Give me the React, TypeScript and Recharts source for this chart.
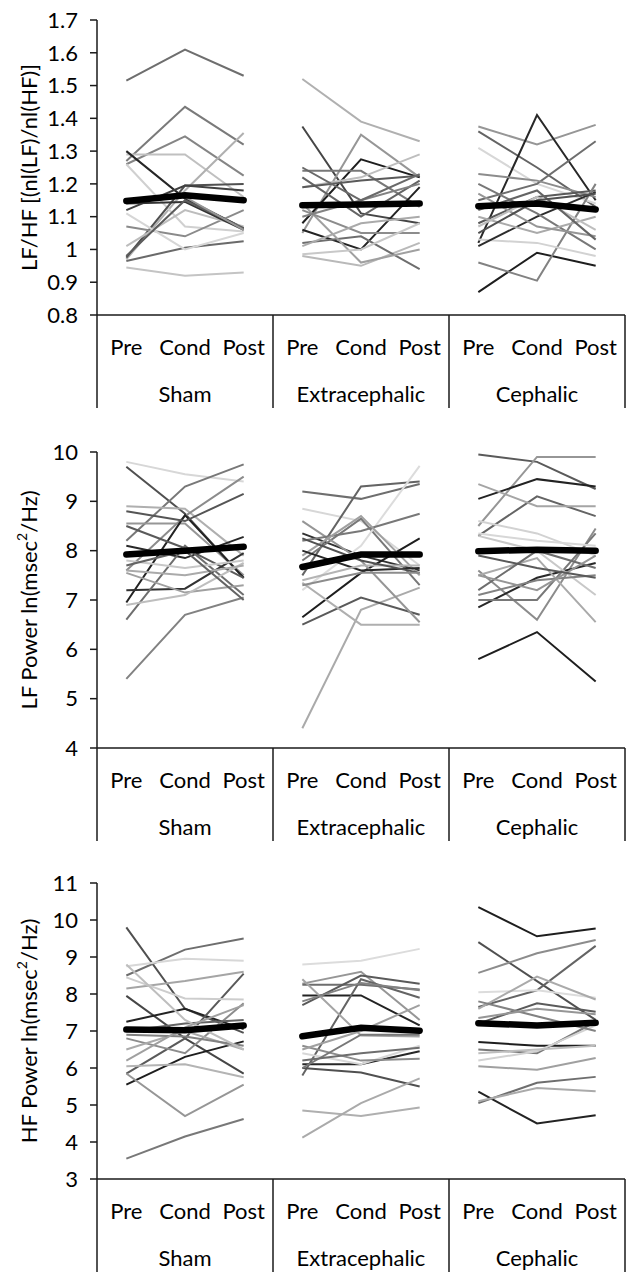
import React from 'react';
import { LineChart, Line, XAxis, YAxis } from 'recharts';

const GROUPS = ['Sham', 'Extracephalic', 'Cephalic'];
const PHASES = ['Pre', 'Cond', 'Post'];

// ---------- Panel 1: LF/HF ----------
const LFHF_TICKS = [0.8, 0.9, 1.0, 1.1, 1.2, 1.3, 1.4, 1.5, 1.6, 1.7];
const LFHF_SHAM = [
  [1.515, 1.61, 1.53], [1.27, 1.435, 1.32], [1.26, 1.345, 1.225], [1.29, 1.29, 1.16],
  [1.3, 1.155, 1.065], [0.97, 1.18, 1.355], [1.26, 1.07, 1.055], [0.975, 1.195, 1.2],
  [1.12, 1.195, 1.18], [1.07, 1.04, 1.12], [1.01, 1.12, 1.07], [0.965, 1.005, 1.025],
  [0.945, 0.92, 0.93], [1.11, 1.0, 1.05], [1.14, 1.145, 1.06], [0.98, 1.15, 1.065],
  [1.15, 1.16, 1.06],
];
const LFHF_EXTRA = [
  [1.52, 1.39, 1.33], [1.375, 1.11, 1.08], [1.05, 1.35, 1.22], [1.08, 1.275, 1.22],
  [1.24, 1.24, 1.13], [1.19, 1.22, 1.29], [1.22, 1.1, 1.21], [1.06, 1.0, 1.19],
  [0.98, 0.95, 1.02], [1.02, 1.04, 0.94], [1.14, 0.96, 1.0], [1.12, 1.05, 1.05],
  [1.19, 1.21, 1.225], [1.1, 1.15, 1.2], [0.985, 1.0, 1.08], [1.01, 1.08, 1.1],
  [1.25, 1.15, 1.23],
];
const LFHF_CEPH = [
  [1.375, 1.32, 1.38], [1.36, 1.25, 1.13], [1.31, 1.2, 1.14], [1.02, 1.41, 1.15],
  [1.15, 1.2, 1.33], [1.23, 1.21, 1.16], [1.08, 1.16, 1.18], [0.87, 0.99, 0.95],
  [0.96, 0.905, 1.2], [1.03, 1.02, 0.98], [1.01, 1.1, 1.175], [1.2, 1.11, 1.0],
  [1.1, 1.05, 1.1], [1.17, 1.07, 1.04], [1.07, 1.16, 1.06], [1.12, 1.18, 1.03],
  [1.05, 1.15, 1.17],
];
const LFHF_MEAN = [[1.148, 1.165, 1.15], [1.135, 1.137, 1.14], [1.132, 1.14, 1.122]];

// ---------- Panel 2: LF Power ----------
const LF_TICKS = [4, 5, 6, 7, 8, 9, 10];
const LF_SHAM = [
  [9.8, 9.55, 9.4], [9.7, 8.75, 7.45], [8.2, 9.3, 9.75], [8.9, 8.85, 7.9],
  [8.55, 8.55, 7.5], [7.6, 8.7, 9.5], [6.95, 8.72, 7.45], [8.5, 8.05, 7.45],
  [8.1, 7.85, 8.28], [7.2, 7.23, 7.95], [6.6, 8.1, 7.1], [5.4, 6.7, 7.05],
  [7.55, 7.15, 7.3], [6.9, 7.1, 7.75], [7.8, 7.65, 7.8], [7.6, 7.5, 7.7],
  [7.7, 8.0, 7.0], [8.8, 8.6, 9.15],
];
const LF_EXTRA = [
  [9.2, 9.05, 9.35], [8.85, 8.6, 7.7], [8.35, 7.9, 7.6], [7.5, 9.3, 9.4],
  [4.4, 6.8, 7.25], [6.65, 7.55, 8.25], [6.5, 7.05, 6.7], [7.8, 8.65, 7.3],
  [8.6, 7.8, 6.55], [7.2, 8.1, 9.72], [8.2, 8.4, 8.75], [7.9, 8.7, 7.5],
  [8.0, 7.6, 7.65], [7.4, 7.7, 7.7], [7.35, 6.5, 6.5], [8.25, 7.8, 7.55],
  [7.3, 7.55, 7.55],
];
const LF_CEPH = [
  [9.95, 9.8, 9.25], [8.5, 9.9, 9.9], [9.05, 9.45, 9.3], [8.3, 9.1, 8.7],
  [9.35, 8.9, 8.9], [5.8, 6.35, 5.35], [8.6, 8.35, 7.9], [7.6, 6.6, 8.45],
  [6.85, 7.45, 7.75], [7.0, 7.0, 8.35], [8.3, 8.0, 7.1], [7.5, 7.85, 6.55],
  [7.1, 7.4, 7.5], [8.35, 8.2, 8.1], [7.2, 8.0, 7.65], [7.5, 7.2, 7.9],
  [7.9, 7.65, 7.45],
];
const LF_MEAN = [[7.92, 8.0, 8.08], [7.67, 7.92, 7.92], [7.99, 8.02, 8.0]];

// ---------- Panel 3: HF Power ----------
const HF_TICKS = [3, 4, 5, 6, 7, 8, 9, 10, 11];
const HF_SHAM = [
  [9.8, 7.6, 6.95], [8.5, 9.2, 9.5], [8.75, 8.95, 8.9], [8.15, 8.35, 8.6],
  [7.95, 6.8, 5.85], [7.25, 7.6, 7.05], [5.85, 6.8, 8.55], [5.55, 6.3, 6.72],
  [3.55, 4.15, 4.62], [5.85, 4.7, 5.55], [6.05, 6.1, 5.75], [8.45, 7.88, 7.85],
  [6.8, 6.4, 7.75], [6.5, 7.0, 6.5], [7.0, 7.2, 7.3], [6.9, 6.85, 6.6],
  [8.8, 7.3, 6.5], [6.2, 7.1, 7.7],
];
const HF_EXTRA = [
  [8.8, 8.9, 9.22], [8.28, 8.6, 7.3], [7.96, 7.96, 7.15], [8.25, 8.25, 8.12],
  [7.7, 8.5, 8.28], [5.8, 8.4, 7.9], [8.4, 6.88, 6.85], [6.0, 5.88, 5.5],
  [4.85, 4.7, 4.93], [4.12, 5.05, 5.72], [6.1, 6.1, 6.45], [6.4, 6.1, 6.6],
  [6.6, 6.2, 6.25], [6.0, 6.9, 6.9], [7.8, 8.3, 8.1], [6.5, 7.0, 7.7],
  [6.2, 6.4, 6.55],
];
const HF_CEPH = [
  [10.35, 9.56, 9.77], [9.4, 8.35, 7.3], [8.57, 9.1, 9.46], [7.65, 8.1, 9.3],
  [8.05, 8.1, 7.9], [7.6, 8.47, 7.85], [7.2, 7.75, 7.52], [6.7, 6.6, 6.6],
  [6.5, 6.4, 7.25], [6.2, 6.45, 7.15], [6.05, 5.95, 6.27], [5.36, 4.5, 4.72],
  [5.05, 5.6, 5.76], [5.1, 5.46, 5.37], [7.8, 7.4, 7.0], [7.35, 7.6, 7.45],
  [6.4, 6.5, 6.6],
];
const HF_MEAN = [[7.04, 7.02, 7.15], [6.86, 7.09, 7.01], [7.21, 7.15, 7.22]];

// ---------- styles (gray levels per subject line) ----------
const SHADES_P1 = [
  [110, 122, 133, 192, 38, 176, 208, 80, 64, 138, 189, 106, 196, 214, 51, 92, 150],
  [176, 70, 150, 30, 120, 190, 100, 35, 185, 110, 160, 140, 90, 130, 200, 170, 105],
  [150, 100, 215, 40, 110, 140, 90, 30, 130, 210, 45, 120, 170, 150, 190, 100, 80],
];
const SHADES_P2 = [
  [215, 80, 120, 175, 150, 140, 35, 90, 40, 50, 110, 130, 160, 190, 200, 170, 100, 85],
  [110, 215, 50, 100, 170, 30, 90, 120, 150, 220, 120, 160, 40, 180, 175, 80, 140],
  [90, 150, 35, 100, 165, 30, 210, 140, 40, 120, 200, 170, 130, 215, 110, 150, 90],
];
const SHADES_P3 = [
  [80, 110, 215, 165, 70, 35, 90, 30, 120, 150, 180, 205, 140, 170, 100, 130, 190, 160],
  [220, 150, 35, 110, 90, 100, 165, 80, 175, 170, 40, 215, 140, 120, 130, 160, 110],
  [30, 80, 140, 100, 220, 170, 90, 30, 120, 210, 160, 35, 110, 170, 130, 150, 190],
];

const FONT = 'Lato, "Open Sans", sans-serif';
const FS = 22;
const W = 629;
const Y_AXIS_W = 97;
const M_RIGHT = 4;
const PLOT_W = W - Y_AXIS_W - M_RIGHT;
const STEP = PLOT_W / 9;
const AXIS_COLOR = '#1a1a1a';

function buildRows(groups: number[][][], means: number[][]) {
  const rows: any[] = [];
  GROUPS.forEach((g, gi) => {
    PHASES.forEach((p, pi) => {
      const row: any = { key: `${g}|${p}` };
      groups[gi].forEach((subj, si) => {
        row[`g${gi}s${si}`] = subj[pi];
      });
      row[`m${gi}`] = means[gi][pi];
      rows.push(row);
    });
  });
  return rows;
}

const GroupTick = (props: any) => {
  const { x, y, payload } = props;
  const idx: number = payload.index;
  const [group, phase] = String(payload.value).split('|');
  const sepLen = 93;
  return (
    <g>
      <text x={x} y={y + 31} textAnchor="middle" dominantBaseline="central"
        fontFamily={FONT} fontSize={FS} fill="#000">{phase}</text>
      {idx % 3 === 1 && (
        <text x={x} y={y + 78} textAnchor="middle" dominantBaseline="central"
          fontFamily={FONT} fontSize={FS} fill="#000">{group}</text>
      )}
      {idx % 3 === 0 && (
        <line x1={x - STEP / 2} x2={x - STEP / 2} y1={y} y2={y + sepLen} stroke={AXIS_COLOR} strokeWidth={1.5} />
      )}
      {idx === 8 && (
        <line x1={x + STEP / 2} x2={x + STEP / 2} y1={y} y2={y + sepLen} stroke={AXIS_COLOR} strokeWidth={1.5} />
      )}
    </g>
  );
};

const YTitle = ({ viewBox, title, sup }: any) => {
  const vb = viewBox || { x: 0, y: 0, width: 0, height: 0 };
  const cx = 28;
  const cy = vb.y + vb.height / 2;
  return (
    <text x={cx} y={cy} transform={`rotate(-90 ${cx} ${cy})`} textAnchor="middle"
      dominantBaseline="central" fontFamily={FONT} fontSize={FS} fill="#000">
      {sup ? (
        <>
          <tspan>{title[0]}</tspan>
          <tspan dy={-7} fontSize={14}>{sup}</tspan>
          <tspan dy={7}>{title[1]}</tspan>
        </>
      ) : (
        title[0]
      )}
    </text>
  );
};

const fmt = (v: number) => String(Math.round(v * 10) / 10);

function Panel({ top, height, xAxisH, domain, ticks, title, sup, subjects, means, shades }: any) {
  const data = buildRows(subjects, means);
  return (
    <div style={{ position: 'absolute', left: 0, top }}>
      <LineChart width={W} height={height} data={data}
        margin={{ top: 20, right: M_RIGHT, bottom: 0, left: 0 }}>
        <XAxis dataKey="key" scale="band" height={xAxisH} interval={0}
          tickLine={false} tickSize={0} tickMargin={0}
          axisLine={{ stroke: AXIS_COLOR, strokeWidth: 1.5 }}
          tick={<GroupTick />} />
        <YAxis type="number" domain={domain} ticks={ticks} width={Y_AXIS_W}
          interval={0} tickSize={7} tickMargin={12} tickFormatter={fmt}
          axisLine={{ stroke: AXIS_COLOR, strokeWidth: 1.5 }}
          tickLine={{ stroke: AXIS_COLOR, strokeWidth: 1.5 }}
          tick={{ fontFamily: FONT, fontSize: FS, fill: '#000' }}
          label={{ content: (p: any) => <YTitle viewBox={p.viewBox} title={title} sup={sup} /> }} />
        {subjects.map((grp: number[][], gi: number) =>
          grp.map((_s: number[], si: number) => {
            const l = shades[gi][si];
            return (
              <Line key={`g${gi}s${si}`} dataKey={`g${gi}s${si}`} type="linear"
                stroke={`rgb(${l},${l},${l})`} strokeWidth={2} dot={false}
                activeDot={false} isAnimationActive={false} connectNulls={false} />
            );
          })
        )}
        {means.map((_m: number[], gi: number) => (
          <Line key={`m${gi}`} dataKey={`m${gi}`} type="linear" stroke="#000"
            strokeWidth={6.5} strokeLinecap="round" dot={false} activeDot={false}
            isAnimationActive={false} connectNulls={false} />
        ))}
      </LineChart>
    </div>
  );
}

export default function App() {
  return (
    <div style={{ position: 'absolute', left: 0, top: 0, width: W, height: 1273, background: '#fff' }}>
      <Panel top={0} height={420} xAxisH={105} domain={[0.8, 1.7]} ticks={LFHF_TICKS}
        title={['LF/HF [(nl(LF)/nl(HF)]']} subjects={[LFHF_SHAM, LFHF_EXTRA, LFHF_CEPH]}
        means={LFHF_MEAN} shades={SHADES_P1} />
      <Panel top={432} height={420} xAxisH={104} domain={[4, 10]} ticks={LF_TICKS}
        title={['LF Power ln(msec', '/Hz)']} sup="2" subjects={[LF_SHAM, LF_EXTRA, LF_CEPH]}
        means={LF_MEAN} shades={SHADES_P2} />
      <Panel top={863} height={410} xAxisH={94} domain={[3, 11]} ticks={HF_TICKS}
        title={['HF Power ln(msec', '/Hz)']} sup="2" subjects={[HF_SHAM, HF_EXTRA, HF_CEPH]}
        means={HF_MEAN} shades={SHADES_P3} />
    </div>
  );
}
